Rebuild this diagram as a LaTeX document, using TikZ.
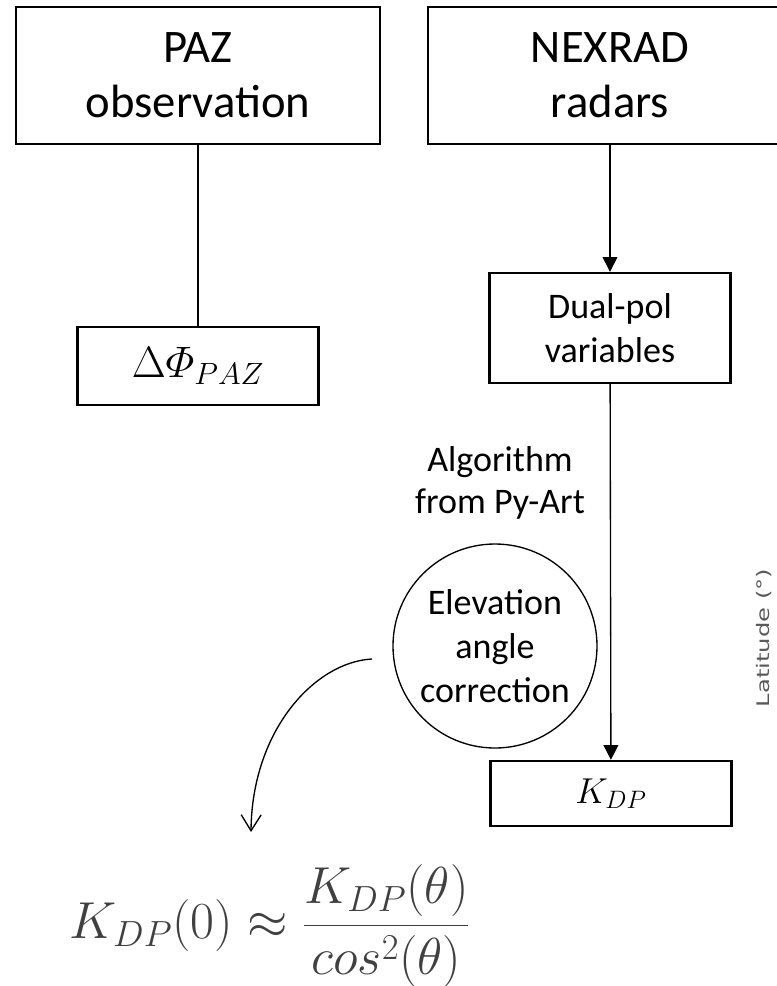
\RequirePackage{fix-cm}
\documentclass[tikz,border=0pt]{standalone}
\usepackage{amsmath}
\usepackage{fontspec}
\setmainfont{Carlito}
\newfontfamily\axisfont{DejaVu Sans}
\usetikzlibrary{arrows.meta,positioning}
\definecolor{FormulaText}{HTML}{404040}
\definecolor{AxisText}{HTML}{595959}
\tikzset{>={Triangle[length=11pt,width=11pt]},every node/.style={font=\fontsize{27}{33}\selectfont},
 block/.style={draw,line width=1.8pt,minimum width=181pt,align=center,inner sep=0pt},
 bigblock/.style={block,minimum width=273pt,minimum height=103pt,font=\fontsize{35}{41}\selectfont},
 roundblock/.style={circle,draw,line width=1pt,minimum size=153pt,align=center,inner sep=0pt},
 link/.style={line width=1pt}}

\begin{document}
\begin{tikzpicture}[x=0.75pt,y=-0.75pt]
\useasboundingbox (0,0) rectangle (777,986);\clip (0,0) rectangle (777,986);
\node[bigblock] (paz) at (198,75.5) {PAZ\\observation};
\node[bigblock] (nexrad) at (610,75.5) {NEXRAD\\radars};
\node[block,minimum height=58.5pt,font=\fontsize{33}{40}\selectfont] (dphi) at (198,366) {$\Delta\varPhi_{PAZ}$};
\node[block,minimum height=82.5pt] (dualpol) at (610,328) {Dual-pol\\variables};
\node[block,minimum height=48.75pt] (kdp) at (611,793.5) {$K_{DP}$};
\node[align=center,font=\fontsize{27}{32}\selectfont] (algo) at (500,483) {Algorithm\\from Py-Art};
\node[roundblock] (elev) at (495,646) {Elevation\\angle\\correction};
\node[text=FormulaText,font=\fontsize{39}{46}\selectfont] (kdpzero) at (270,926)
 {$K_{DP}(0)\approx\dfrac{K_{DP}(\theta)}{cos^2(\theta)}$};
\node[rotate=90,text=AxisText,font=\axisfont\fontsize{13}{15}\selectfont] (lataxis) at (764,638) {\scalebox{1.4}[1]{Latitude (°)}};
% connectors
\draw[link] (paz) -- (dphi);
\draw[link,->] (nexrad) -- (dualpol);
\draw[link,->] (dualpol) -- (kdp);
\coordinate (bendstart) at (372,659);\coordinate (bendend) at (251,832);
\draw[link,-{Straight Barb[length=12pt,width=15pt]}] (bendstart) .. controls (315,662) and (252,730) .. (bendend);
\end{tikzpicture}
\end{document}
